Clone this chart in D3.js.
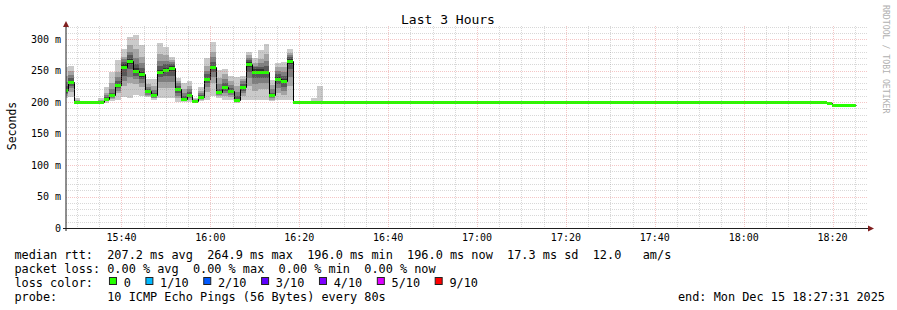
<!DOCTYPE html>
<html>
<head>
<meta charset="utf-8">
<title>Last 3 Hours</title>
<script src="https://d3js.org/d3.v7.min.js"></script>
<style>
  body { margin: 0; background: #fff; overflow: hidden; }
  text { font-family: "DejaVu Sans Mono", monospace; fill: #000; white-space: pre; }
</style>
</head>
<body>
<script>
// --- data (milliseconds), one value per 80s step starting 15:26:38 ---
var firstStep = new Date(2025, 11, 15, 15, 26, 38);
var stepSeconds = 80;
var graphStart = new Date(2025, 11, 15, 15, 27, 31);
var graphEnd = new Date(2025, 11, 15, 18, 27, 31);

var medianMs = [
  219.5, 232, 199.5, 199.5, 199.5, 199.5, 199.5,
  205, 211, 227, 256, 264.9, 250, 244, 217, 211, 248, 251, 254, 221, 205, 212, 202,
  208, 236, 255, 216, 224, 218, 204, 224, 260, 248, 248, 247, 211, 237, 233, 264.5,
  199.5, 199.5, 199.5, 199.5, 199.5, 199.5, 199.5, 199.5, 199.5, 199.5,
  199.5, 199.5, 199.5, 199.5, 199.5, 199.5, 199.5, 199.5, 199.5, 199.5,
  199.5, 199.5, 199.5, 199.5, 199.5, 199.5, 199.5, 199.5, 199.5, 199.5,
  199.5, 199.5, 199.5, 199.5, 199.5, 199.5, 199.5, 199.5, 199.5, 199.5,
  199.5, 199.5, 199.5, 199.5, 199.5, 199.5, 199.5, 199.5, 199.5, 199.5,
  199.5, 199.5, 199.5, 199.5, 199.5, 199.5, 199.5, 199.5, 199.5, 199.5,
  199.5, 199.5, 199.5, 199.5, 199.5, 199.5, 199.5, 199.5, 199.5, 199.5,
  199.5, 199.5, 199.5, 199.5, 199.5, 199.5, 199.5, 199.5, 199.5, 199.5,
  199.5, 199.5, 199.5, 199.5, 199.5, 199.5, 199.5, 199.5, 199.5, 199.5,
  198, 196, 196, 196, 196
];

// sorted 10 ping values for the steps that show smoke
var pingIdx = [0, 1, 2, 6, 7, 8, 9, 10, 11, 12, 13, 14, 15, 16, 17, 18, 19, 20, 21, 22,
  23, 24, 25, 26, 27, 28, 29, 30, 31, 32, 33, 34, 35, 36, 37, 38, 39, 42, 43];
var pingRows = [
  [206, 210, 213, 215, 218, 221, 226, 232, 242, 255],
  [208, 216, 222, 226, 230, 234, 238, 243, 250, 257],
  [198, 199, 199, 199, 199.5, 199.5, 200, 201, 203, 207],
  [199, 199, 199.5, 199.5, 199.5, 199.5, 200, 201, 203, 207],
  [199, 201, 202, 203, 204, 206, 208, 211, 215, 224],
  [201, 205, 207, 208, 210, 212, 215, 220, 230, 248],
  [204, 214, 218, 222, 225, 229, 234, 240, 248, 267],
  [208, 226, 234, 242, 252, 260, 264, 268, 272, 284],
  [206, 230, 240, 252, 260, 269, 274, 280, 290, 303],
  [212, 228, 236, 242, 246, 254, 260, 270, 285, 307],
  [210, 224, 230, 236, 240, 248, 254, 262, 272, 291],
  [208, 210, 212, 214, 216, 218, 221, 224, 229, 236],
  [203, 206, 207, 209, 210, 212, 215, 219, 226, 236],
  [206, 222, 232, 240, 245, 251, 258, 266, 276, 294],
  [206, 222, 232, 242, 248, 254, 260, 266, 274, 288],
  [206, 222, 232, 242, 250, 258, 261, 264, 267, 271],
  [200, 206, 210, 215, 219, 223, 226, 230, 234, 239],
  [200, 201, 202, 203, 204, 206, 209, 214, 221, 231],
  [200, 204, 206, 209, 211, 213, 216, 220, 226, 234],
  [199, 200, 200, 201, 201.5, 202.5, 203, 204, 205, 206],
  [201, 203, 205, 206, 207, 209, 211, 214, 218, 224],
  [204, 216, 224, 230, 233, 239, 244, 250, 258, 270],
  [209, 230, 240, 248, 252, 258, 264, 272, 280, 295],
  [206, 209, 211, 213, 215, 217, 221, 228, 238, 251],
  [204, 210, 214, 218, 222, 226, 230, 236, 244, 253],
  [204, 208, 211, 214, 217, 219, 222, 227, 234, 242],
  [199, 200, 201, 202, 203, 205, 209, 216, 226, 240],
  [203, 210, 214, 218, 222, 226, 229, 233, 237, 242],
  [204, 226, 238, 248, 256, 264, 267, 270, 274, 280],
  [204, 218, 228, 238, 244, 252, 255, 258, 262, 270],
  [204, 220, 230, 238, 244, 252, 256, 262, 268, 282],
  [204, 220, 230, 238, 244, 250, 258, 266, 276, 292],
  [202, 204, 206, 208, 210, 212, 215, 220, 227, 235],
  [204, 214, 222, 228, 234, 240, 244, 249, 255, 262],
  [204, 212, 218, 224, 230, 236, 241, 248, 256, 264],
  [204, 226, 240, 252, 260, 268, 271, 274, 278, 284],
  [199, 199, 199, 199.5, 199.5, 199.5, 199.5, 200, 200, 201],
  [199, 199, 199.5, 199.5, 199.5, 199.5, 200, 200, 201, 207],
  [199, 199, 199.5, 199.5, 199.5, 199.5, 200, 200, 201, 226]
];

var smokeShades = ["#cacaca", "#a4a4a4", "#7e7e7e", "#585858", "#323232"];
var lossLabels = ["0", "1/10", "2/10", "3/10", "4/10", "5/10", "9/10"];
var lossColors = ["#26ff00", "#00b8ff", "#0059ff", "#5e00ff", "#7e00ff", "#dd00ff", "#ff0000"];
var yTicks = [0, 50, 100, 150, 200, 250, 300];

var legendLines = [
  "median rtt:  207.2 ms avg  264.9 ms max  196.0 ms min  196.0 ms now  17.3 ms sd  12.0   am/s",
  "packet loss: 0.00 % avg  0.00 % max  0.00 % min  0.00 % now",
  "loss color:",
  "probe:       10 ICMP Echo Pings (56 Bytes) every 80s"
];
var endLabel = "end: Mon Dec 15 18:27:31 2025";

// --- layout ---
var W = 897, H = 310;
var svg = d3.select("body").append("svg").attr("width", W).attr("height", H);

var x = d3.scaleTime().domain([graphStart, graphEnd]).range([66, 866]);
var y = d3.scaleLinear().domain([0, 320]).range([228, 26.5]);

function stepTime(i) { return new Date(firstStep.getTime() + i * stepSeconds * 1000); }

svg.append("defs").append("clipPath").attr("id", "plot")
  .append("rect").attr("x", 66).attr("y", 26).attr("width", 800).attr("height", 202.5);

var plot = svg.append("g").attr("clip-path", "url(#plot)");

// smoke bands, outer (light) to inner (dark)
var smoke = pingIdx.map(function(idx, k) { return { idx: idx, p: pingRows[k] }; });
for (var b = 0; b < 5; b++) {
  plot.append("g").attr("shape-rendering", "crispEdges")
    .selectAll("rect").data(smoke).enter().append("rect")
    .attr("x", function(d) { return Math.round(x(stepTime(d.idx))); })
    .attr("width", function(d) { return Math.round(x(stepTime(d.idx + 1))) - Math.round(x(stepTime(d.idx))); })
    .attr("y", function(d) { return Math.round(y(d.p[9 - b])); })
    .attr("height", function(d) { return Math.max(0, Math.round(y(d.p[b])) - Math.round(y(d.p[9 - b]))); })
    .attr("fill", smokeShades[b]);
}

// black median line
var medPts = medianMs.map(function(v, i) { return [stepTime(i), v]; });
medPts.push([stepTime(medianMs.length), medianMs[medianMs.length - 1]]);
plot.append("path")
  .attr("d", d3.line().curve(d3.curveStepAfter)
    .x(function(d) { return Math.round(x(d[0])) + 0.5; })
    .y(function(d) { return Math.round(y(d[1])) + 0.5; })(medPts))
  .attr("fill", "none").attr("stroke", "#000").attr("stroke-width", 1);

// loss-coloured median band (loss 0 everywhere)
plot.append("g").attr("shape-rendering", "crispEdges")
  .selectAll("rect").data(medianMs).enter().append("rect")
  .attr("x", function(d, i) { return Math.round(x(stepTime(i))); })
  .attr("width", function(d, i) { return Math.round(x(stepTime(i + 1))) - Math.round(x(stepTime(i))); })
  .attr("y", function(d) { return Math.round(y(d)) - 1; })
  .attr("height", 3)
  .attr("fill", lossColors[0]);

// grid (drawn over the data, like rrdtool)
var minorCol = "rgba(143,143,143,0.35)", majorCol = "rgba(222,79,79,0.32)";
var grid = svg.append("g").attr("shape-rendering", "crispEdges");
var minorY = d3.range(10, 321, 10).filter(function(v) { return v % 50 !== 0; });
grid.selectAll(".hmin").data(minorY).enter().append("line")
  .attr("x1", 66).attr("x2", 868)
  .attr("y1", function(d) { return Math.round(y(d)) + 0.5; })
  .attr("y2", function(d) { return Math.round(y(d)) + 0.5; })
  .attr("stroke", minorCol).attr("stroke-dasharray", "1,1");
var minorX = d3.timeMinute.every(5).range(graphStart, graphEnd)
  .filter(function(t) { return t.getMinutes() % 20 !== 0; });
grid.selectAll(".vmin").data(minorX).enter().append("line")
  .attr("x1", function(d) { return Math.round(x(d)) + 0.5; })
  .attr("x2", function(d) { return Math.round(x(d)) + 0.5; })
  .attr("y1", 26).attr("y2", 228)
  .attr("stroke", minorCol).attr("stroke-dasharray", "1,1");
grid.selectAll(".hmaj").data(yTicks.filter(function(v) { return v > 0; })).enter().append("line")
  .attr("x1", 66).attr("x2", 868)
  .attr("y1", function(d) { return Math.round(y(d)) + 0.5; })
  .attr("y2", function(d) { return Math.round(y(d)) + 0.5; })
  .attr("stroke", majorCol).attr("stroke-dasharray", "1,1");
var majorX = d3.timeMinute.every(20).range(graphStart, graphEnd);
grid.selectAll(".vmaj").data(majorX).enter().append("line")
  .attr("x1", function(d) { return Math.round(x(d)) + 0.5; })
  .attr("x2", function(d) { return Math.round(x(d)) + 0.5; })
  .attr("y1", 26).attr("y2", 228)
  .attr("stroke", majorCol).attr("stroke-dasharray", "1,1");

// axes
svg.append("line").attr("x1", 66).attr("x2", 66).attr("y1", 231).attr("y2", 24)
  .attr("stroke", "#1f1f1f");
svg.append("line").attr("x1", 63).attr("x2", 869).attr("y1", 228.5).attr("y2", 228.5)
  .attr("stroke", "#1f1f1f");
svg.append("path").attr("d", "M63,27 L69,27 L66,21 Z").attr("fill", "#801f1f");
svg.append("path").attr("d", "M868,225.5 L868,231.5 L874,228.5 Z").attr("fill", "#801f1f");

// tick labels
svg.selectAll(".ylab").data(yTicks).enter().append("text")
  .attr("x", 61).attr("y", function(d) { return y(d) + 3.5; })
  .attr("text-anchor", "end").style("font-size", "10px")
  .text(function(d) { return d === 0 ? "0" : d + " m"; });
svg.selectAll(".xlab").data(majorX).enter().append("text")
  .attr("x", function(d) { return x(d); }).attr("y", 241)
  .attr("text-anchor", "middle").style("font-size", "10px")
  .text(d3.timeFormat("%H:%M"));

// titles
svg.append("text").attr("x", 448).attr("y", 24).attr("text-anchor", "middle")
  .style("font-size", "13px").text("Last 3 Hours");
svg.append("text").attr("transform", "translate(16,126) rotate(-90)")
  .attr("text-anchor", "middle").style("font-size", "11.5px").text("Seconds");
svg.append("text").attr("transform", "translate(883,5) rotate(90)")
  .style("font-size", "8.2px").style("fill", "#b0b0b0").text("RRDTOOL / TOBI OETIKER");

// legend
var cw = 7.143, lx = 14.4;
legendLines.forEach(function(s, i) {
  svg.append("text").attr("x", lx).attr("y", 258.5 + i * 14)
    .style("font-size", "11.86px").text(s);
});
var bx = lx + 13 * cw + 1.7;
lossLabels.forEach(function(lab, i) {
  svg.append("rect").attr("x", bx + 0.5).attr("y", 277.5).attr("width", 7).attr("height", 7)
    .attr("fill", lossColors[i]).attr("stroke", "#222").attr("stroke-width", 1);
  svg.append("text").attr("x", bx + 14.7).attr("y", 258.5 + 2 * 14)
    .style("font-size", "11.86px").text(lab);
  bx += (lab.length + 4.1) * cw;
});
svg.append("text").attr("x", 885).attr("y", 258.5 + 3 * 14).attr("text-anchor", "end")
  .style("font-size", "11.86px").text(endLabel);
</script>
</body>
</html>
